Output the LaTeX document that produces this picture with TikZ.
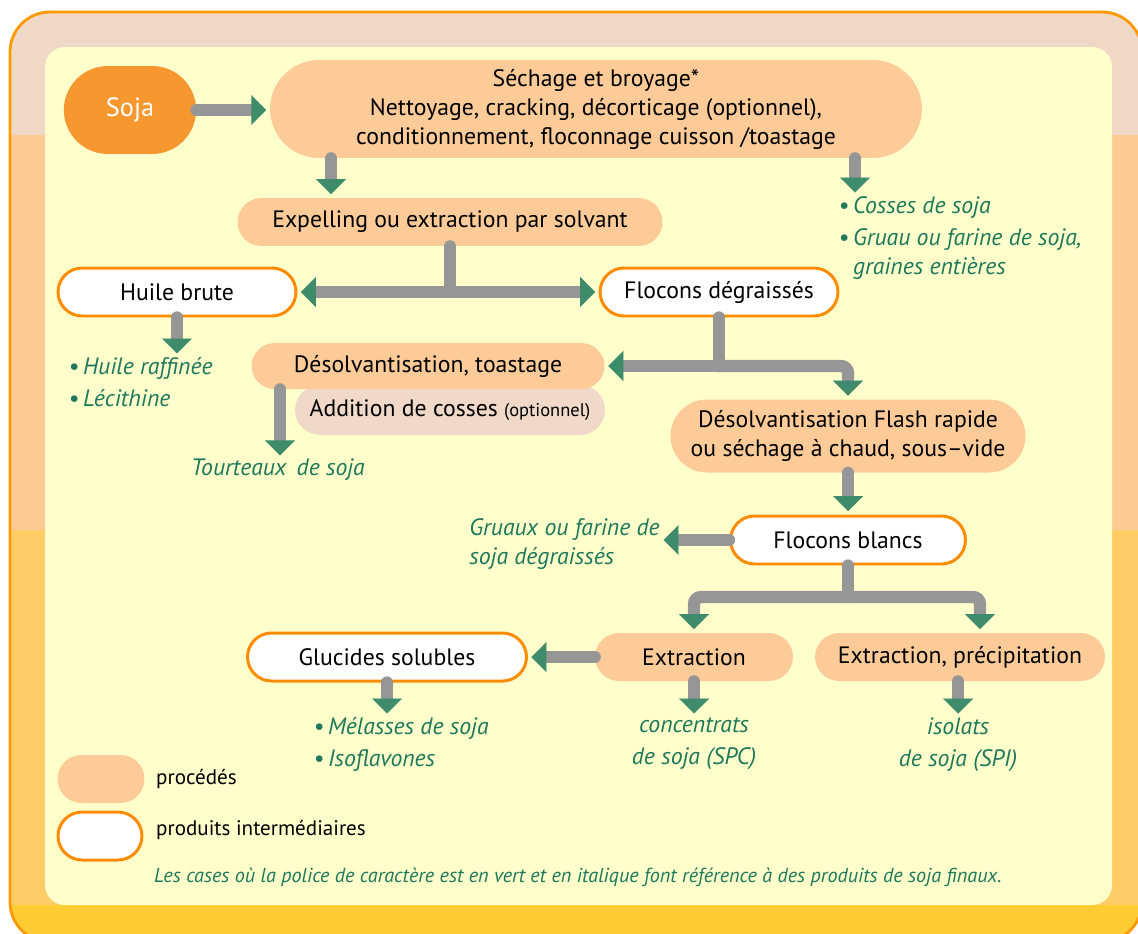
\documentclass[tikz,border=0pt]{standalone}
\usepackage{fontspec}
\setmainfont{PT Sans}
\usepackage{tikz}
\usetikzlibrary{shapes.misc}
\usetikzlibrary{arrows.meta, positioning}

\definecolor{framebeige}{RGB}{239,217,198}
\definecolor{framepeach}{RGB}{253,202,150}
\definecolor{frameyellow}{RGB}{255,204,102}
\definecolor{framegold}{RGB}{255,204,51}
\definecolor{frameorange}{RGB}{255,153,0}
\definecolor{panelcream}{RGB}{255,255,204}
\definecolor{procpeach}{RGB}{253,203,152}
\definecolor{addbeige}{RGB}{240,217,200}
\definecolor{prodorange}{RGB}{255,140,0}
\definecolor{sojaorange}{RGB}{247,151,47}
\definecolor{fingreen}{RGB}{30,120,90}
\definecolor{flowgray}{RGB}{150,150,150}
\definecolor{tipgreen}{RGB}{62,140,108}

\begin{document}
\begin{tikzpicture}[x=0.02cm, y=-0.02cm,
  font=\fontsize{13.5pt}{16.5pt}\selectfont,
  proc/.style={rounded rectangle, fill=procpeach, align=center, inner sep=0pt},
  prod/.style={rounded rectangle, draw=prodorange, line width=1.7pt, fill=white, inner sep=0pt},
  fin/.style={text=fingreen, font=\fontsize{13.5pt}{16.5pt}\selectfont\itshape, inner sep=0pt},
  bul/.style={fin, align=left},
  flow/.style={draw=flowgray, line width=7pt, line cap=round, shorten >=2pt,
    -{Triangle[color=tipgreen, width=17pt, length=8.5pt, line width=0.01pt]}},
  flow2/.style={draw=flowgray, line width=7pt, shorten >=2pt, shorten <=2pt,
    {Triangle[color=tipgreen, width=17pt, length=8.5pt, line width=0.01pt]}-{Triangle[color=tipgreen, width=17pt, length=8.5pt, line width=0.01pt]}},
  stub/.style={draw=flowgray, line width=7pt, line cap=round}]
  \useasboundingbox (0,0) rectangle (1138,933);

  % frame and panel
  \begin{scope}
    \clip[rounded corners=0.8cm] (10,12) rectangle (1142,942);
    \fill[framebeige] (0,0) rectangle (1150,135);
    \fill[framepeach] (0,135) rectangle (1150,530);
    \fill[frameyellow] (0,530) rectangle (1150,905);
    \fill[framegold] (0,905) rectangle (1150,950);
  \end{scope}
  \draw[frameorange, line width=1.6pt, rounded corners=0.8cm] (10,12) rectangle (1142,942);
  \fill[panelcream, rounded corners=0.4cm] (45,47) rectangle (1112,905);

  % boxes
  \node[rounded rectangle, fill=sojaorange, text=white, minimum width=2.88cm, minimum height=1.76cm,
    font=\fontsize{15pt}{18pt}\selectfont] (soja) at (130,110) {Soja};
  \node[proc, minimum width=13.04cm, minimum height=1.96cm] (sech) at (596,109)
    {Séchage et broyage*\\Nettoyage, cracking, décorticage (optionnel),\\conditionnement, floconnage cuisson /toastage};
  \node[proc, minimum width=8.5cm, minimum height=0.96cm] (expel) at (450,222) {Expelling ou extraction par solvant};
  \node[prod, minimum width=4.76cm, minimum height=0.96cm] (huile) at (177,292) {Huile brute};
  \node[prod, minimum width=4.76cm, minimum height=0.96cm] (flocd) at (719,292) {Flocons dégraissés};
  \node[rounded rectangle, fill=addbeige, minimum width=6.2cm, minimum height=1.0cm, inner sep=0pt] (addcos) at (450,410)
    {\raisebox{-3pt}{Addition de cosses {\fontsize{10.5pt}{12pt}\selectfont(optionnel)}}};
  \node[proc, minimum width=7.06cm, minimum height=0.92cm] (desol) at (428,366) {Désolvantisation, toastage};
  \node[proc, minimum width=7.1cm, minimum height=1.46cm] (flash) at (848,436)
    {Désolvantisation Flash rapide\\ou séchage à chaud, sous--vide};
  \node[prod, minimum width=4.7cm, minimum height=0.96cm] (flocb) at (848,540) {Flocons blancs};
  \node[proc, minimum width=3.96cm, minimum height=0.96cm] (extr) at (694,657) {Extraction};
  \node[proc, minimum width=5.8cm, minimum height=0.96cm] (extp) at (960,657) {Extraction, précipitation};
  \node[prod, minimum width=5.58cm, minimum height=0.96cm] (gluc) at (387,657) {Glucides solubles};

  % final products
  \node[bul, anchor=north west] (cosses) at (838,196)
    {\textbullet\,Cosses de soja\\[2pt]\textbullet\,Gruau ou farine de soja,\\\phantom{\textbullet\,}graines entières};
  \node[bul, anchor=north west] (huileraf) at (68,357) {\textbullet\,Huile raffinée\\[2pt]\textbullet\,Lécithine};
  \node[fin] (tourt) at (278,470) {Tourteaux\, de soja};
  \node[bul, anchor=east] (gruaux) at (660,544) {Gruaux ou farine de\\soja dégraissés};
  \node[bul, anchor=north west] (melas) at (313,717) {\textbullet\,Mélasses de soja\\[2pt]\textbullet\,Isoflavones};
  \node[fin, align=center, anchor=north] (spc) at (694,717) {concentrats\\[2pt]de soja (SPC)};
  \node[fin, align=center, anchor=north] (spi) at (958,717) {isolats\\[2pt]de soja (SPI)};

  % legend
  \node[proc, minimum width=1.74cm, minimum height=0.96cm] (lproc) at (101,779) {};
  \node[prod, minimum width=1.68cm, minimum height=0.96cm] (lprod) at (100,836) {};
  \node[anchor=west, font=\fontsize{12pt}{14pt}\selectfont] (tproc) at (150,779) {procédés};
  \node[anchor=west, font=\fontsize{12pt}{14pt}\selectfont] (tprod) at (150,830) {produits intermédiaires};
  \node[anchor=west, text=fingreen, font=\fontsize{11.5pt}{14pt}\selectfont\itshape] (note) at (148,877)
    {Les cases où la police de caractère est en vert et en italique font référence à des produits de soja finaux.};

  % arrows
  \coordinate (xa) at (331,0);
  \coordinate (xb) at (855,0);
  \coordinate (xc) at (280,0);
  \coordinate (yd) at (0,597);
  \coordinate (xe) at (980,0);
  \draw[flow] (soja.east) -- (soja.east -| sech.west);
  \draw[flow] (sech.south -| xa) -- (expel.north -| xa);
  \draw[flow] (sech.south -| xb) -- (cosses.north -| xb);
  \draw[stub] (expel.south) -- (expel.south |- huile.east);
  \draw[flow2] (huile.east) -- (flocd.west);
  \draw[flow] (huile.south) -- (huile.south |- huileraf.north);
  \draw[stub] (flocd.south) -- (flocd.south |- desol.east);
  \draw[flow] (flocd.south |- desol.east) -- (desol.east);
  \draw[flow, rounded corners=4pt] (flocd.south |- desol.east) -| (flash.north);
  \draw[flow] (desol.south -| xc) -- (tourt.north -| xc);
  \draw[flow] (flash.south) -- (flocb.north);
  \draw[flow] (flocb.west) -- (flocb.west -| gruaux.east);
  \draw[stub] (flocb.south) -- (flocb.south |- yd);
  \draw[flow, rounded corners=4pt] (flocb.south |- yd) -| (extr.north);
  \draw[flow, rounded corners=4pt] (flocb.south |- yd) -| (extp.north -| xe);
  \draw[flow] (extr.west) -- (gluc.east);
  \draw[flow] (gluc.south) -- (gluc.south |- melas.north);
  \draw[flow] (extr.south) -- (spc.north);
  \draw[flow] (spi.north |- extp.south) -- (spi.north);
\end{tikzpicture}
\end{document}
